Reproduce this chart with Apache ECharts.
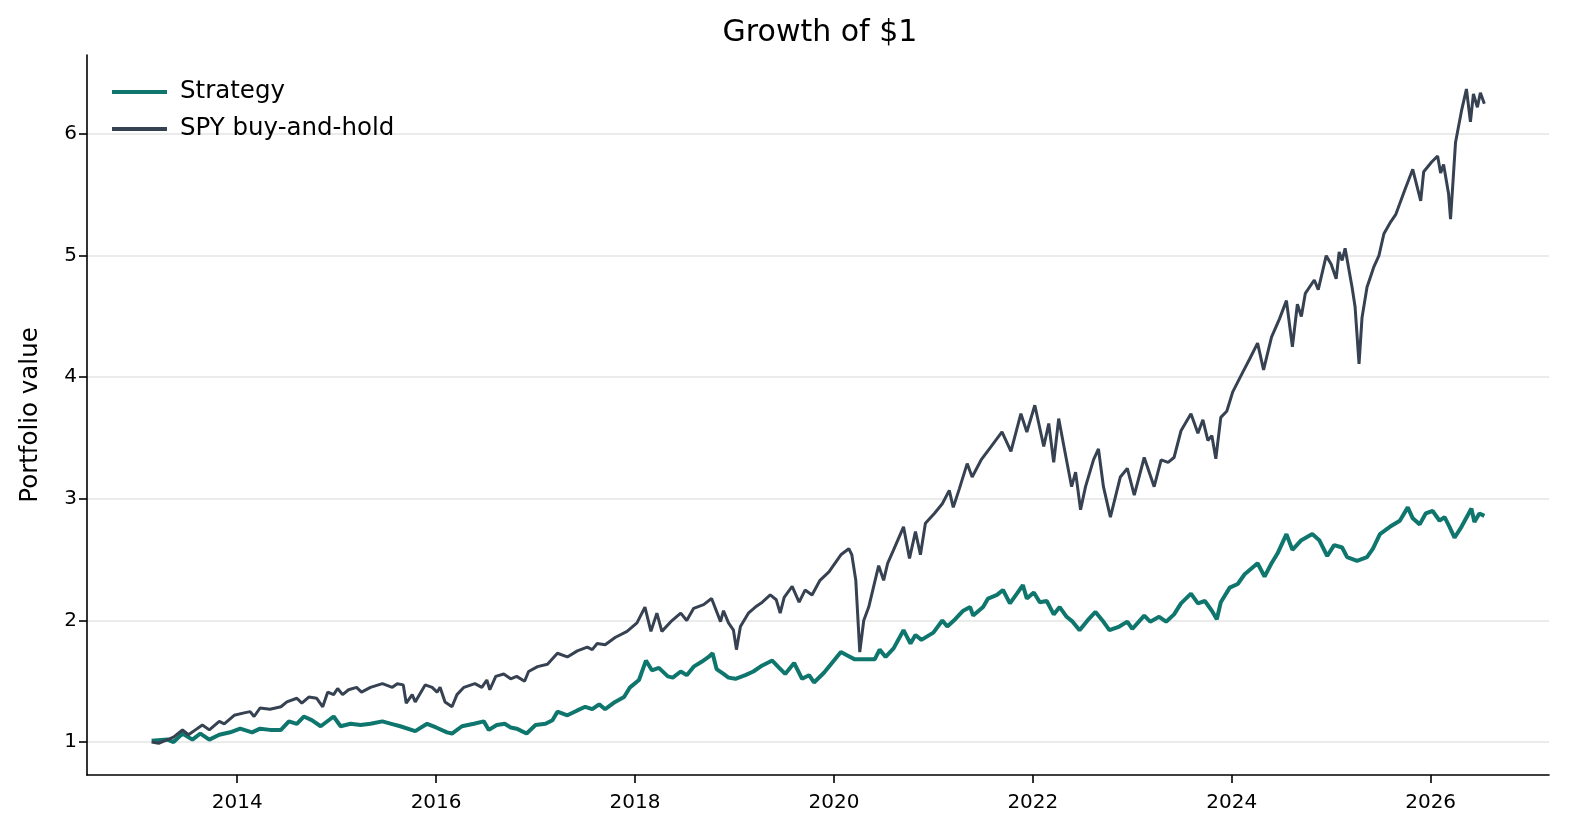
<!DOCTYPE html>
<html>
<head>
<meta charset="utf-8">
<script src="https://cdn.jsdelivr.net/npm/echarts@6/dist/echarts.min.js"></script>
<style>
  html, body { margin: 0; padding: 0; background: #fff; }
  #chart { width: 1569px; height: 837px; }
</style>
</head>
<body>
<div id="chart"></div>
<script>
// x values are decimal years
const yearTicks = [2014, 2016, 2018, 2020, 2022, 2024, 2026];
const valueTicks = [1, 2, 3, 4, 5, 6];

const spyYears = [
  2013.14, 2013.21, 2013.30, 2013.36, 2013.45, 2013.51, 2013.58, 2013.65, 2013.72, 2013.82,
  2013.87, 2013.97, 2014.07, 2014.13, 2014.17, 2014.23, 2014.33, 2014.44, 2014.50, 2014.60,
  2014.65, 2014.72, 2014.80, 2014.86, 2014.91, 2014.97, 2015.01, 2015.06, 2015.12, 2015.20,
  2015.25, 2015.34, 2015.46, 2015.56, 2015.61, 2015.67, 2015.70, 2015.76, 2015.79, 2015.89,
  2015.96, 2016.01, 2016.04, 2016.09, 2016.16, 2016.21, 2016.28, 2016.39, 2016.46, 2016.51,
  2016.54, 2016.60, 2016.68, 2016.75, 2016.81, 2016.89, 2016.93, 2017.02, 2017.12, 2017.22,
  2017.32, 2017.42, 2017.52, 2017.57, 2017.62, 2017.70, 2017.80, 2017.92, 2018.02, 2018.10,
  2018.16, 2018.22, 2018.27, 2018.36, 2018.46, 2018.52, 2018.59, 2018.69, 2018.77, 2018.86,
  2018.89, 2018.94, 2018.99, 2019.02, 2019.06, 2019.14, 2019.21, 2019.28, 2019.36, 2019.42,
  2019.46, 2019.50, 2019.58, 2019.65, 2019.71, 2019.78, 2019.86, 2019.95, 2020.07, 2020.15,
  2020.18, 2020.22, 2020.26, 2020.30, 2020.35, 2020.40, 2020.45, 2020.50, 2020.54, 2020.60,
  2020.70, 2020.76, 2020.82, 2020.87, 2020.92, 2021.01, 2021.09, 2021.16, 2021.20, 2021.26,
  2021.34, 2021.39, 2021.48, 2021.58, 2021.69, 2021.78, 2021.88, 2021.94, 2022.02, 2022.11,
  2022.16, 2022.21, 2022.26, 2022.32, 2022.39, 2022.43, 2022.48, 2022.53, 2022.61, 2022.66,
  2022.71, 2022.78, 2022.88, 2022.95, 2023.02, 2023.12, 2023.22, 2023.29, 2023.36, 2023.42,
  2023.49, 2023.59, 2023.66, 2023.71, 2023.76, 2023.80, 2023.84, 2023.89, 2023.95, 2024.01,
  2024.11, 2024.18, 2024.26, 2024.32, 2024.40, 2024.48, 2024.55, 2024.61, 2024.66, 2024.70,
  2024.74, 2024.83, 2024.87, 2024.95, 2025.00, 2025.05, 2025.08, 2025.11, 2025.14, 2025.21,
  2025.24, 2025.28, 2025.31, 2025.36, 2025.43, 2025.48, 2025.53, 2025.60, 2025.65, 2025.74,
  2025.82, 2025.90, 2025.93, 2026.01, 2026.07, 2026.10, 2026.13, 2026.18, 2026.20, 2026.22,
  2026.25, 2026.31, 2026.36, 2026.40, 2026.43, 2026.47, 2026.50, 2026.54
];
const spyValues = [
  1.00, 0.99, 1.02, 1.04, 1.10, 1.06, 1.10, 1.14, 1.10, 1.17,
  1.15, 1.22, 1.24, 1.25, 1.21, 1.28, 1.27, 1.29, 1.33, 1.36,
  1.32, 1.37, 1.36, 1.29, 1.41, 1.39, 1.44, 1.39, 1.43, 1.45,
  1.41, 1.45, 1.48, 1.45, 1.48, 1.47, 1.32, 1.39, 1.33, 1.47,
  1.45, 1.41, 1.45, 1.33, 1.29, 1.39, 1.45, 1.48, 1.45, 1.51,
  1.43, 1.54, 1.56, 1.52, 1.54, 1.50, 1.58, 1.62, 1.64, 1.73,
  1.70, 1.75, 1.78, 1.76, 1.81, 1.80, 1.86, 1.91, 1.98, 2.11,
  1.91, 2.06, 1.91, 1.99, 2.06, 2.00, 2.10, 2.13, 2.18, 1.99,
  2.08, 1.98, 1.92, 1.76, 1.95, 2.06, 2.11, 2.15, 2.21, 2.17,
  2.06, 2.19, 2.28, 2.15, 2.25, 2.21, 2.33, 2.40, 2.54, 2.59,
  2.54, 2.33, 1.74, 2.00, 2.11, 2.28, 2.45, 2.33, 2.47, 2.58,
  2.77, 2.51, 2.73, 2.54, 2.80, 2.88, 2.96, 3.07, 2.93, 3.08,
  3.29, 3.18, 3.32, 3.43, 3.55, 3.39, 3.70, 3.55, 3.77, 3.43,
  3.62, 3.30, 3.66, 3.40, 3.10, 3.22, 2.91, 3.10, 3.32, 3.41,
  3.10, 2.85, 3.18, 3.25, 3.03, 3.34, 3.10, 3.32, 3.30, 3.34,
  3.56, 3.70, 3.54, 3.65, 3.48, 3.52, 3.33, 3.67, 3.72, 3.88,
  4.04, 4.15, 4.28, 4.06, 4.33, 4.48, 4.63, 4.25, 4.60, 4.50,
  4.69, 4.80, 4.72, 5.00, 4.93, 4.81, 5.03, 4.96, 5.06, 4.74,
  4.58, 4.11, 4.49, 4.74, 4.91, 5.00, 5.18, 5.28, 5.34, 5.54,
  5.71, 5.45, 5.69, 5.77, 5.82, 5.68, 5.75, 5.51, 5.30, 5.55,
  5.93, 6.19, 6.37, 6.10, 6.33, 6.22, 6.34, 6.25
];

const strategyYears = [
  2013.14, 2013.30, 2013.36, 2013.45, 2013.55, 2013.63, 2013.72, 2013.82, 2013.93, 2014.03,
  2014.15, 2014.23, 2014.33, 2014.44, 2014.52, 2014.60, 2014.67, 2014.75, 2014.84, 2014.97,
  2015.04, 2015.14, 2015.24, 2015.34, 2015.46, 2015.55, 2015.64, 2015.79, 2015.91, 2016.00,
  2016.11, 2016.16, 2016.26, 2016.38, 2016.48, 2016.53, 2016.61, 2016.69, 2016.75, 2016.81,
  2016.91, 2017.00, 2017.10, 2017.17, 2017.22, 2017.32, 2017.42, 2017.50, 2017.57, 2017.64,
  2017.70, 2017.80, 2017.89, 2017.95, 2018.04, 2018.11, 2018.17, 2018.24, 2018.33, 2018.38,
  2018.46, 2018.52, 2018.59, 2018.67, 2018.74, 2018.78, 2018.82, 2018.89, 2018.94, 2019.01,
  2019.11, 2019.19, 2019.28, 2019.38, 2019.45, 2019.51, 2019.60, 2019.68, 2019.75, 2019.80,
  2019.90, 2019.98, 2020.07, 2020.14, 2020.21, 2020.41, 2020.46, 2020.52, 2020.60, 2020.70,
  2020.77, 2020.82, 2020.88, 2021.00, 2021.09, 2021.14, 2021.22, 2021.30, 2021.37, 2021.40,
  2021.50, 2021.55, 2021.64, 2021.70, 2021.77, 2021.84, 2021.90, 2021.94, 2022.01, 2022.07,
  2022.14, 2022.21, 2022.27, 2022.34, 2022.40, 2022.47, 2022.55, 2022.63, 2022.70, 2022.77,
  2022.87, 2022.95, 2023.00, 2023.12, 2023.18, 2023.27, 2023.34, 2023.42, 2023.49, 2023.59,
  2023.66, 2023.73, 2023.80, 2023.85, 2023.89, 2023.98, 2024.06, 2024.13, 2024.26, 2024.33,
  2024.40, 2024.46, 2024.55, 2024.61, 2024.70, 2024.81, 2024.88, 2024.96, 2025.03, 2025.11,
  2025.16, 2025.26, 2025.36, 2025.42, 2025.49, 2025.59, 2025.69, 2025.77, 2025.82, 2025.89,
  2025.95, 2026.02, 2026.09, 2026.14, 2026.19, 2026.24, 2026.31, 2026.41, 2026.44, 2026.49,
  2026.54
];
const strategyValues = [
  1.01, 1.02, 1.00, 1.07, 1.02, 1.07, 1.02, 1.06, 1.08, 1.11,
  1.08, 1.11, 1.10, 1.10, 1.17, 1.15, 1.21, 1.18, 1.13, 1.21,
  1.13, 1.15, 1.14, 1.15, 1.17, 1.15, 1.13, 1.09, 1.15, 1.12,
  1.08, 1.07, 1.13, 1.15, 1.17, 1.10, 1.14, 1.15, 1.12, 1.11,
  1.07, 1.14, 1.15, 1.18, 1.25, 1.22, 1.26, 1.29, 1.27, 1.31,
  1.27, 1.33, 1.37, 1.45, 1.51, 1.67, 1.59, 1.61, 1.54, 1.53,
  1.58, 1.55, 1.62, 1.66, 1.70, 1.73, 1.60, 1.56, 1.53, 1.52,
  1.55, 1.58, 1.63, 1.67, 1.61, 1.56, 1.65, 1.52, 1.55, 1.49,
  1.57, 1.65, 1.74, 1.71, 1.68, 1.68, 1.76, 1.70, 1.77, 1.92,
  1.81, 1.88, 1.84, 1.90, 2.00, 1.95, 2.01, 2.08, 2.11, 2.04,
  2.11, 2.18, 2.21, 2.25, 2.14, 2.22, 2.29, 2.18, 2.23, 2.15,
  2.16, 2.05, 2.11, 2.03, 1.99, 1.92, 2.00, 2.07, 2.00, 1.92,
  1.95, 1.99, 1.93, 2.04, 1.99, 2.03, 1.99, 2.05, 2.14, 2.22,
  2.14, 2.16, 2.08, 2.01, 2.15, 2.27, 2.30, 2.38, 2.47, 2.36,
  2.47, 2.55, 2.71, 2.58, 2.66, 2.71, 2.66, 2.53, 2.62, 2.60,
  2.52, 2.49, 2.52, 2.59, 2.71, 2.77, 2.82, 2.93, 2.84, 2.79,
  2.88, 2.90, 2.82, 2.85, 2.77, 2.68, 2.77, 2.92, 2.81, 2.88,
  2.86
];

const pair = (xs, ys) => xs.map((x, i) => [x, ys[i]]);

const chart = echarts.init(document.getElementById("chart"));
const font = "DejaVu Sans";

chart.setOption({
  animation: false,
  textStyle: { fontFamily: font },
  title: {
    text: "Growth of $1",
    left: 815,
    textAlign: "center",
    top: 11,
    textStyle: { fontFamily: font, fontSize: 30, fontWeight: "normal", color: "#000", lineHeight: 34 },
  },
  legend: {
    orient: "vertical",
    left: 107,
    top: 73,
    itemWidth: 55,
    itemHeight: 4,
    itemGap: 9,
    icon: "rect",
    textStyle: { fontFamily: font, fontSize: 24.5, color: "#000", lineHeight: 28, padding: [0, 0, 0, 8] },
    data: ["Strategy", "SPY buy-and-hold"],
  },
  grid: { left: 87, right: 20, top: 55, bottom: 62, containLabel: false },
  xAxis: {
    type: "value",
    min: 2012.49,
    max: 2027.19,
    axisLine: { lineStyle: { color: "#000", width: 1.6 } },
    axisTick: { show: true, length: 8, lineStyle: { color: "#000", width: 1.6 }, customValues: yearTicks },
    axisLabel: {
      customValues: yearTicks,
      fontFamily: font,
      fontSize: 20,
      color: "#000",
      margin: 18,
      formatter: (v) => String(Math.round(v)),
    },
    splitLine: { show: false },
  },
  yAxis: {
    type: "value",
    min: 0.729,
    max: 6.65,
    name: "Portfolio value",
    nameLocation: "middle",
    nameGap: 44,
    nameTextStyle: { fontFamily: font, fontSize: 24.5, color: "#000" },
    axisLine: { show: true, lineStyle: { color: "#000", width: 1.6 } },
    axisTick: { show: true, length: 8, lineStyle: { color: "#000", width: 1.6 }, customValues: valueTicks },
    axisLabel: {
      customValues: valueTicks,
      fontFamily: font,
      fontSize: 20,
      color: "#000",
      margin: 10,
    },
    splitLine: { show: true, lineStyle: { color: "#e5e5e5", width: 1.5 } },
  },
  series: [
    {
      name: "Strategy",
      type: "line",
      data: pair(strategyYears, strategyValues),
      showSymbol: false,
      symbol: "none",
      color: "#0f766e",
      lineStyle: { width: 4, color: "#0f766e" },
    },
    {
      name: "SPY buy-and-hold",
      type: "line",
      data: pair(spyYears, spyValues),
      showSymbol: false,
      symbol: "none",
      color: "#364152",
      lineStyle: { width: 3, color: "#364152" },
    },
  ],
});
</script>
</body>
</html>
